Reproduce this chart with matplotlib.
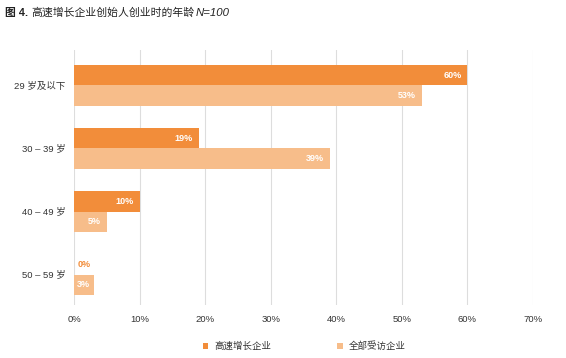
import matplotlib
matplotlib.use("Agg")
import matplotlib.pyplot as plt
import numpy as np

plt.rcParams['font.family'] = ['Liberation Sans', 'Noto Sans CJK SC', 'DejaVu Sans']

categories = ["29 岁及以下", "30 – 39 岁", "40 – 49 岁", "50 – 59 岁"]
series_names = ["高速增长企业", "全部受访企业"]
high_growth = [60, 19, 10, 0]
all_firms = [53, 39, 5, 3]
xticks = [0, 10, 20, 30, 40, 50, 60, 70]

c_dark = "#F28D3A"
c_light = "#F7BD8A"

fig = plt.figure(figsize=(5.66, 3.58), dpi=100)
ax = fig.add_axes([74/566, 1-305/358, (533-74)/566, (305-50)/358])

y = np.arange(len(categories))
h = 0.32
b1 = ax.barh(y - h/2, high_growth, height=h, color=c_dark, label=series_names[0], zorder=3)
b2 = ax.barh(y + h/2, all_firms, height=h, color=c_light, label=series_names[1], zorder=3)

for rect, v in zip(b1, high_growth):
    yc = rect.get_y() + rect.get_height()/2
    if v > 0:
        ax.text(v - 0.9, yc, f"{v}%", ha='right', va='center', color='white',
                fontsize=6.5, fontweight='bold', zorder=4)
    else:
        ax.text(0.5, yc, f"{v}%", ha='left', va='center', color=c_dark,
                fontsize=6.5, fontweight='bold', zorder=4)
for rect, v in zip(b2, all_firms):
    yc = rect.get_y() + rect.get_height()/2
    ax.text(v - 0.9 if v > 4 else 0.5, yc, f"{v}%", ha='right' if v > 4 else 'left',
            va='center', color='white', fontsize=6.5, fontweight='bold', zorder=4)

ax.set_xlim(0, 70)
ax.set_ylim(3.48, -0.56)
ax.set_xticks(xticks)
ax.set_xticklabels([f"{t}%" for t in xticks], fontsize=6.8, color="#333333")
ax.set_yticks(y)
ax.set_yticklabels(categories, fontsize=6.8, color="#333333")
ax.tick_params(axis='y', length=0, pad=6)
ax.tick_params(axis='x', length=0, pad=7)
ax.grid(axis='x', color="#dddddd", linewidth=0.8, zorder=0)
for s in ax.spines.values():
    s.set_visible(False)

leg = fig.legend(handles=[b1, b2], labels=series_names, loc='center', ncol=2,
                 bbox_to_anchor=(304/566, 1-346/358), frameon=False, fontsize=6.8,
                 handlelength=0.6, handleheight=0.6, columnspacing=7.0, handletextpad=0.6)
for t in leg.get_texts():
    t.set_color("#333333")

fig.text(5/566, 1-13/358, "图 4.", fontsize=7.8, fontweight='bold', va='center', ha='left', color="#222222")
fig.text(31/566, 1-13/358, "高速增长企业创始人创业时的年龄", fontsize=7.8, va='center', ha='left', color="#222222")
fig.text(196/566, 1-13/358, "N=100", fontsize=8.2, style='italic', va='center', ha='left', color="#222222")

fig.savefig("out.png", dpi=100)
